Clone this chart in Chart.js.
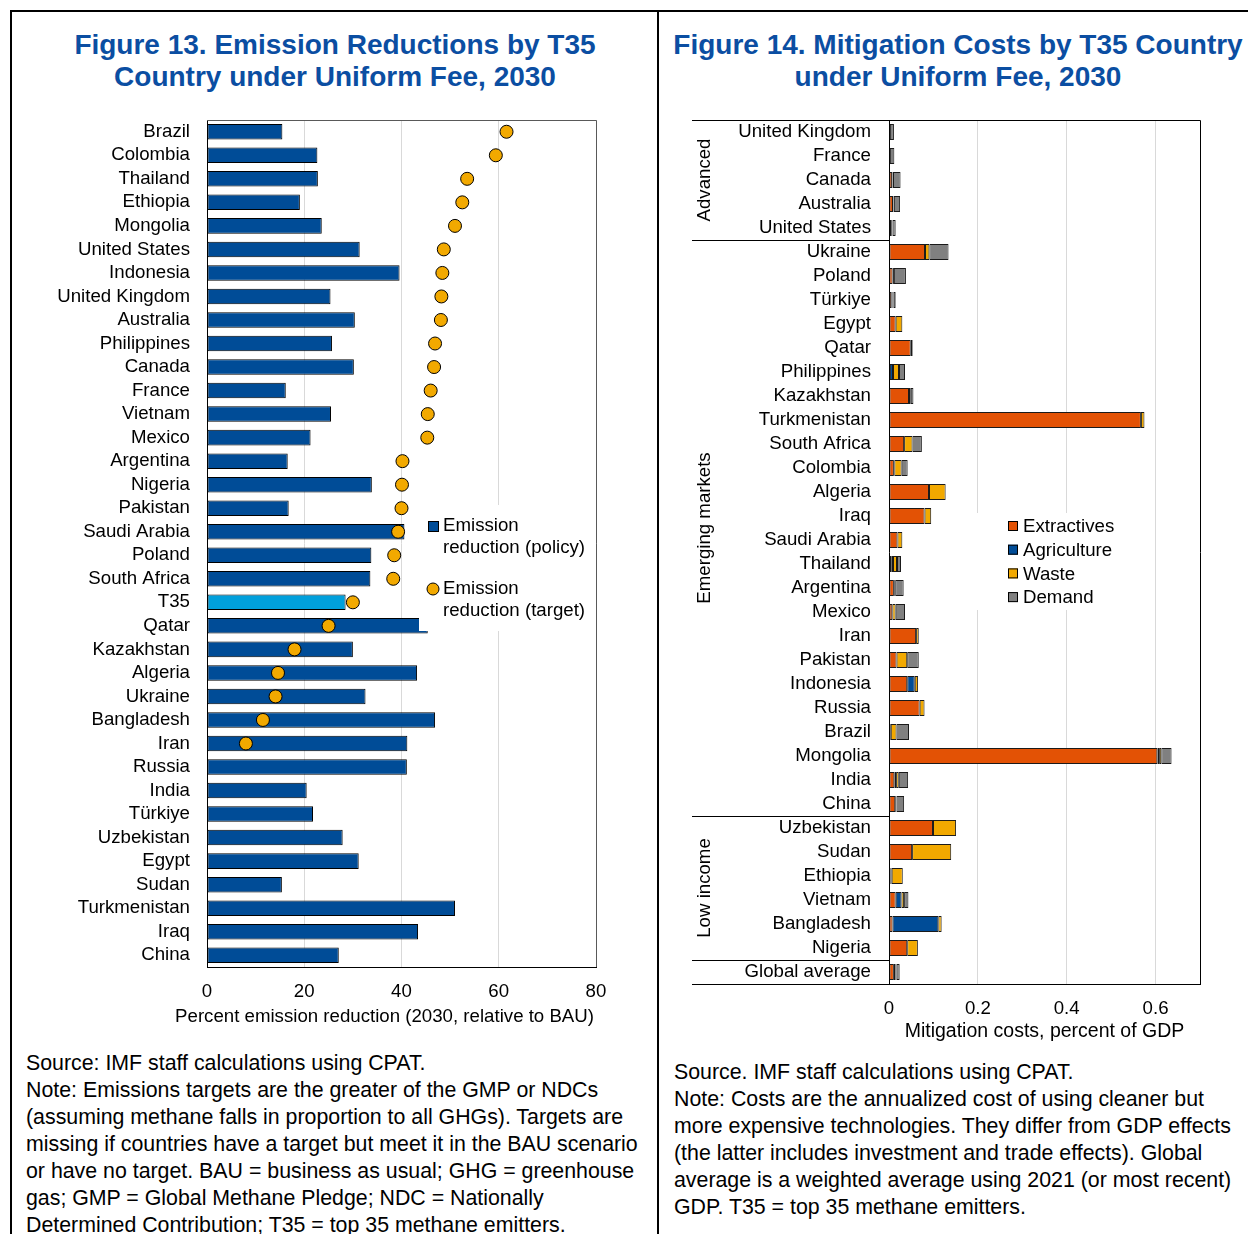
<!DOCTYPE html>
<html>
<head>
<meta charset="utf-8">
<script src="https://cdn.jsdelivr.net/npm/chart.js@4.4.1/dist/chart.umd.min.js"></script>
<style>
  body { margin: 0; width: 1248px; height: 1234px; background: #fff; position: relative; overflow: hidden;
         font-family: 'Liberation Sans', Arial, sans-serif; }
  .line { position: absolute; background: #000; }
  .title { position: absolute; text-align: center; color: #0B4EA2; font-weight: bold; font-size: 28px; line-height: 32px; }
  .note { position: absolute; font-size: 21.33px; line-height: 27px; white-space: pre; color: #000; }
  canvas { position: absolute; }
</style>
</head>
<body>
<div class="line" style="left:11px; top:10px; width:1237px; height:2px;"></div>
<div class="line" style="left:10px; top:10px; width:2px; height:1224px;"></div>
<div class="line" style="left:657px; top:10px; width:2px; height:1224px;"></div>

<div class="title" style="left:0; top:29px; width:670px;">Figure 13. Emission Reductions by T35<br>Country under Uniform Fee, 2030</div>
<div class="title" style="left:668px; top:29px; width:580px;">Figure 14. Mitigation Costs by T35 Country<br>under Uniform Fee, 2030</div>

<canvas id="fig13" width="640" height="930" style="left:0; top:110px;"></canvas>
<canvas id="fig14" width="588" height="945" style="left:660px; top:110px;"></canvas>

<div class="note" style="left:26px; top:1050px;">Source: IMF staff calculations using CPAT.
Note: Emissions targets are the greater of the GMP or NDCs
(assuming methane falls in proportion to all GHGs). Targets are
missing if countries have a target but meet it in the BAU scenario
or have no target. BAU = business as usual; GHG = greenhouse
gas; GMP = Global Methane Pledge; NDC = Nationally
Determined Contribution; T35 = top 35 methane emitters.</div>
<div class="note" style="left:674px; top:1059px;">Source. IMF staff calculations using CPAT.
Note: Costs are the annualized cost of using cleaner but
more expensive technologies. They differ from GDP effects
(the latter includes investment and trade effects). Global
average is a weighted average using 2021 (or most recent)
GDP. T35 = top 35 methane emitters.</div>

<script>
// Figure 13 data: percent emission reduction (2030, relative to BAU)
const countries13 = ['Brazil', 'Colombia', 'Thailand', 'Ethiopia', 'Mongolia', 'United States', 'Indonesia',
  'United Kingdom', 'Australia', 'Philippines', 'Canada', 'France', 'Vietnam', 'Mexico', 'Argentina',
  'Nigeria', 'Pakistan', 'Saudi Arabia', 'Poland', 'South Africa', 'T35', 'Qatar', 'Kazakhstan',
  'Algeria', 'Ukraine', 'Bangladesh', 'Iran', 'Russia', 'India', 'Türkiye', 'Uzbekistan', 'Egypt',
  'Sudan', 'Turkmenistan', 'Iraq', 'China'];
const policyReduction = [15.5, 22.7, 22.8, 19.1, 23.6, 31.4, 39.6, 25.4, 30.4, 25.7, 30.2, 16.2, 25.5, 21.3,
  16.6, 33.9, 16.8, 40.6, 33.8, 33.6, 28.5, 45.4, 30.0, 43.2, 32.6, 46.9, 41.2, 41.1, 20.5, 21.8,
  27.9, 31.2, 15.4, 51.0, 43.4, 27.1];
const targetReduction = [61.6, 59.4, 53.5, 52.5, 51.0, 48.7, 48.4, 48.2, 48.1, 46.9, 46.7, 46.0, 45.4, 45.3,
  40.2, 40.1, 40.0, 39.3, 38.5, 38.3, 30.0, 25.0, 18.0, 14.6, 14.1, 11.5, 8.0, null, null, null,
  null, null, null, null, null, null];
const ticks13 = [0, 20, 40, 60, 80];
const xTitle13 = 'Percent emission reduction (2030, relative to BAU)';

// Figure 14 data: mitigation costs, percent of GDP
const countries14 = ['United Kingdom', 'France', 'Canada', 'Australia', 'United States', 'Ukraine', 'Poland',
  'Türkiye', 'Egypt', 'Qatar', 'Philippines', 'Kazakhstan', 'Turkmenistan', 'South Africa', 'Colombia',
  'Algeria', 'Iraq', 'Saudi Arabia', 'Thailand', 'Argentina', 'Mexico', 'Iran', 'Pakistan', 'Indonesia',
  'Russia', 'Brazil', 'Mongolia', 'India', 'China', 'Uzbekistan', 'Sudan', 'Ethiopia', 'Vietnam',
  'Bangladesh', 'Nigeria', 'Global average'];
const extractives = [0.001, 0.001, 0.007, 0.009, 0.005, 0.081, 0.008, 0.006, 0.015, 0.049, 0.002, 0.045, 0.567,
  0.034, 0.011, 0.090, 0.080, 0.019, 0.005, 0.011, 0.0075, 0.061, 0.017, 0.041, 0.069, 0.002, 0.604,
  0.012, 0.014, 0.099, 0.052, 0.003, 0.015, 0.008, 0.041, 0.011];
const agriculture = [0, 0, 0.001, 0.001, 0.002, 0, 0.001, 0.002, 0, 0, 0.007, 0, 0, 0, 0.001, 0, 0, 0, 0.004,
  0.002, 0, 0, 0, 0.017, 0, 0.002, 0.004, 0.004, 0.002, 0, 0, 0.003, 0.013, 0.103, 0, 0.004];
const waste = [0.001, 0.001, 0.001, 0.001, 0.001, 0.010, 0.002, 0.002, 0.015, 0.004, 0.0135, 0.004, 0.008,
  0.019, 0.0165, 0.0375, 0.015, 0.011, 0.009, 0.001, 0.0075, 0.006, 0.024, 0.0075, 0.011, 0.013, 0.005,
  0.006, 0.001, 0.052, 0.088, 0.025, 0.006, 0.0075, 0.024, 0.002];
const demand = [0.009, 0.010, 0.017, 0.014, 0.007, 0.043, 0.027, 0.005, 0, 0.001, 0.0135, 0.006, 0, 0.021,
  0.0135, 0, 0, 0, 0.009, 0.019, 0.021, 0, 0.026, 0, 0, 0.028, 0.023, 0.021, 0.017, 0, 0, 0, 0.0097,
  0, 0, 0.007];
const ticks14 = [0, 0.2, 0.4, 0.6];
// group name, first row, last row
const groups14 = [['Advanced', 0, 4], ['Emerging markets', 5, 28], ['Low income', 29, 34]];

const FONT = "'Liberation Sans', Arial, sans-serif";
Chart.defaults.font.family = FONT;
Chart.defaults.font.size = 18.67;
Chart.defaults.color = '#000';

const BLUE = '#004C97', LIGHTBLUE = '#00A0DC', ORANGE = '#E35205', YELLOW = '#F2A900', GREY = '#808080';

// fix the width of the category axis and drop the label overhang padding
function fitCategoryAxis(width) {
  return s => {
    s.width = width;
    s.paddingTop = 0;
    s.paddingBottom = 0;
  };
}

// legend box with white background drawn over the plot (figure 13)
const legend13 = {
  id: 'legend13',
  afterDatasetsDraw(chart) {
    const ctx = chart.ctx, a = chart.chartArea;
    const x = a.left + 212, y = a.top + 385;
    ctx.save();
    ctx.fillStyle = '#fff';
    ctx.fillRect(x, y, 176, 126);
    ctx.lineWidth = 1;
    ctx.strokeStyle = '#000';
    ctx.fillStyle = BLUE;
    ctx.fillRect(x + 9, y + 16, 11, 11);
    ctx.strokeRect(x + 9.5, y + 16.5, 10, 10);
    ctx.beginPath();
    ctx.arc(x + 14, y + 84, 6, 0, Math.PI * 2);
    ctx.fillStyle = YELLOW;
    ctx.fill();
    ctx.stroke();
    ctx.fillStyle = '#000';
    ctx.font = '18.67px ' + FONT;
    ctx.textBaseline = 'middle';
    ctx.fillText('Emission', x + 24, y + 21);
    ctx.fillText('reduction (policy)', x + 24, y + 43);
    ctx.fillText('Emission', x + 24, y + 84);
    ctx.fillText('reduction (target)', x + 24, y + 106);
    ctx.restore();
  },
  afterDraw(chart) {
    const ctx = chart.ctx, a = chart.chartArea;
    ctx.save();
    ctx.strokeStyle = '#595959';
    ctx.lineWidth = 1;
    ctx.beginPath();
    ctx.moveTo(a.left, a.top + 0.5);
    ctx.lineTo(a.right + 0.5, a.top + 0.5);
    ctx.lineTo(a.right + 0.5, a.bottom);
    ctx.stroke();
    // axis title is wider than the plot, so it is drawn here without squeezing
    ctx.fillStyle = '#000';
    ctx.font = '18.67px ' + FONT;
    ctx.textAlign = 'right';
    ctx.textBaseline = 'middle';
    ctx.fillText(xTitle13, a.right - 2, a.bottom + 50);
    ctx.restore();
  }
};

new Chart(document.getElementById('fig13'), {
  type: 'bar',
  data: {
    labels: countries13,
    datasets: [{
      type: 'line',
      label: 'Emission reduction (target)',
      data: targetReduction,
      indexAxis: 'y',
      showLine: false,
      order: 0,
      pointRadius: 6.5,
      pointBorderWidth: 1,
      pointBorderColor: '#000',
      pointBackgroundColor: YELLOW
    }, {
      type: 'bar',
      label: 'Emission reduction (policy)',
      data: policyReduction,
      order: 1,
      backgroundColor: countries13.map(c => c === 'T35' ? LIGHTBLUE : BLUE),
      borderColor: '#000',
      borderWidth: 1,
      borderSkipped: false,
      categoryPercentage: 1,
      barPercentage: 0.66
    }]
  },
  options: {
    indexAxis: 'y',
    responsive: false,
    animation: false,
    layout: { padding: { top: 10, right: 44, left: 0, bottom: 0 } },
    plugins: { legend: { display: false }, tooltip: { enabled: false } },
    scales: {
      y: {
        ticks: { autoSkip: false, padding: 17 },
        grid: { display: false, drawTicks: false },
        border: { color: '#000', width: 1 },
        afterFit: fitCategoryAxis(207)
      },
      x: {
        min: 0,
        max: 80,
        afterBuildTicks: s => { s.ticks = ticks13.map(v => ({ value: v })); },
        ticks: { padding: 14 },
        grid: { color: '#d9d9d9', drawTicks: false },
        border: { color: '#000', width: 1 },
        afterFit: s => { s.height = 73; }
      }
    }
  },
  plugins: [legend13]
});

// group labels, separators, frame and legend for figure 14
const frame14 = {
  id: 'frame14',
  afterDatasetsDraw(chart) {
    const ctx = chart.ctx, a = chart.chartArea;
    const x = a.left + 83, y = a.top + 393;
    const items = [['Extractives', ORANGE], ['Agriculture', BLUE], ['Waste', YELLOW], ['Demand', GREY]];
    ctx.save();
    ctx.fillStyle = '#fff';
    ctx.fillRect(x, y, 168, 97);
    ctx.font = '18.67px ' + FONT;
    ctx.textBaseline = 'middle';
    ctx.lineWidth = 1;
    ctx.strokeStyle = '#000';
    items.forEach((it, i) => {
      const cy = y + 13 + i * 23.7;
      ctx.fillStyle = it[1];
      ctx.fillRect(x + 36, cy - 5, 10, 10);
      ctx.strokeRect(x + 36.5, cy - 4.5, 9, 9);
      ctx.fillStyle = '#000';
      ctx.fillText(it[0], x + 51, cy + 1);
    });
    ctx.restore();
  },
  afterDraw(chart) {
    const ctx = chart.ctx, a = chart.chartArea, ys = chart.scales.y;
    const left = a.left - 197;
    const half = (ys.getPixelForValue(1) - ys.getPixelForValue(0)) / 2;
    ctx.save();
    ctx.strokeStyle = '#000';
    ctx.lineWidth = 1;
    ctx.beginPath();
    ctx.moveTo(left, a.top + 0.5);
    ctx.lineTo(a.right + 0.5, a.top + 0.5);
    ctx.lineTo(a.right + 0.5, a.bottom + 0.5);
    ctx.lineTo(left, a.bottom + 0.5);
    groups14.forEach(g => {
      const yb = Math.round(ys.getPixelForValue(g[2]) + half) + 0.5;
      ctx.moveTo(left, yb);
      ctx.lineTo(a.left, yb);
    });
    ctx.stroke();
    ctx.fillStyle = '#000';
    ctx.font = '18.67px ' + FONT;
    ctx.textAlign = 'center';
    ctx.textBaseline = 'middle';
    groups14.forEach(g => {
      const yc = (ys.getPixelForValue(g[1]) + ys.getPixelForValue(g[2])) / 2;
      ctx.save();
      ctx.translate(a.left - 184, yc);
      ctx.rotate(-Math.PI / 2);
      ctx.fillText(g[0], 0, 0);
      ctx.restore();
    });
    ctx.restore();
  }
};

const seg = (label, data, color) => ({
  label: label,
  data: data,
  backgroundColor: color,
  borderColor: '#1a1a1a',
  borderWidth: 1,
  borderSkipped: false,
  categoryPercentage: 1,
  barPercentage: 0.67
});

new Chart(document.getElementById('fig14'), {
  type: 'bar',
  data: {
    labels: countries14,
    datasets: [
      seg('Extractives', extractives, ORANGE),
      seg('Agriculture', agriculture, BLUE),
      seg('Waste', waste, YELLOW),
      seg('Demand', demand, GREY)
    ]
  },
  options: {
    indexAxis: 'y',
    responsive: false,
    animation: false,
    layout: { padding: { top: 10, right: 48, left: 0, bottom: 0 } },
    plugins: { legend: { display: false }, tooltip: { enabled: false } },
    scales: {
      y: {
        stacked: true,
        ticks: { autoSkip: false, padding: 18 },
        grid: { display: false, drawTicks: false },
        border: { color: '#000', width: 1 },
        afterFit: fitCategoryAxis(229)
      },
      x: {
        stacked: true,
        min: 0,
        max: 0.7,
        afterBuildTicks: s => { s.ticks = ticks14.map(v => ({ value: v })); },
        ticks: { padding: 14 },
        grid: { color: '#d9d9d9', drawTicks: false },
        border: { color: '#000', width: 1 },
        title: {
          display: true,
          text: 'Mitigation costs, percent of GDP',
          font: { size: 19.5 },
          padding: { top: 0, bottom: 12 }
        },
        afterFit: s => { s.height = 71; }
      }
    }
  },
  plugins: [frame14]
});
</script>
</body>
</html>
